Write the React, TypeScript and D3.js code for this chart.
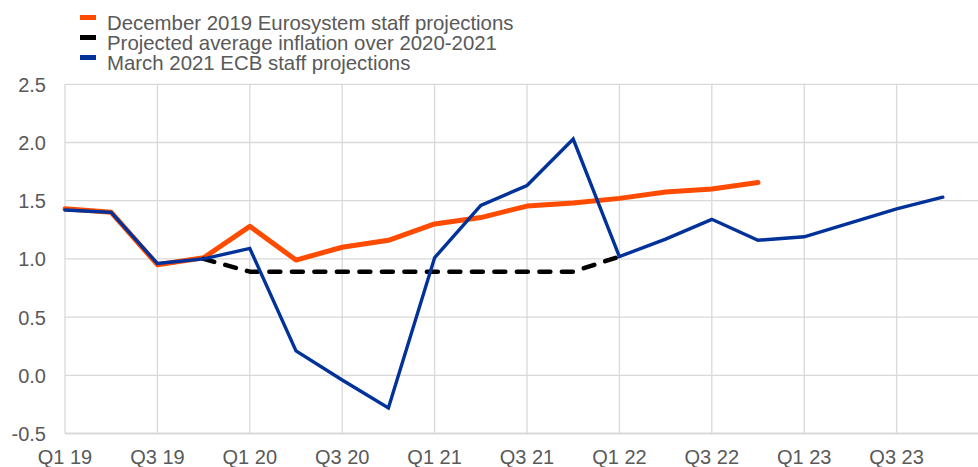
import React from "react";
import * as d3 from "d3";

const quarters = [
  "Q1 19", "Q2 19", "Q3 19", "Q4 19",
  "Q1 20", "Q2 20", "Q3 20", "Q4 20",
  "Q1 21", "Q2 21", "Q3 21", "Q4 21",
  "Q1 22", "Q2 22", "Q3 22", "Q4 22",
  "Q1 23", "Q2 23", "Q3 23", "Q4 23",
];
const tickLabels = ["Q1 19", "Q3 19", "Q1 20", "Q3 20", "Q1 21", "Q3 21", "Q1 22", "Q3 22", "Q1 23", "Q3 23"];
const yTicks = [-0.5, 0.0, 0.5, 1.0, 1.5, 2.0, 2.5];

// December 2019 Eurosystem staff projections (Q1 19 .. Q4 22)
const dec2019 = [1.43, 1.40, 0.95, 1.01, 1.28, 0.99, 1.10, 1.16, 1.30, 1.355, 1.454, 1.48, 1.52, 1.575, 1.60, 1.656];
// Projected average inflation over 2020-2021 (Q4 19 .. Q1 22)
const avgStart = 3;
const avg2020_21 = [1.0, 0.89, 0.89, 0.89, 0.89, 0.89, 0.89, 0.89, 0.89, 1.02];
// March 2021 ECB staff projections (Q1 19 .. Q4 23)
const mar2021 = [1.42, 1.40, 0.96, 1.00, 1.09, 0.21, -0.04, -0.28, 1.01, 1.46, 1.63, 2.03, 1.02, 1.17, 1.34, 1.16, 1.19, 1.31, 1.43, 1.53];

const seriesNames = [
  "December 2019 Eurosystem staff projections",
  "Projected average inflation over 2020-2021",
  "March 2021 ECB staff projections",
];
const colors = ["#FF4B00", "#000000", "#003299"];

const W = 978;
const H = 467;
const FONT = "'Liberation Sans', Arial, Helvetica, sans-serif";

const fmtY = (t: number) => t.toFixed(1);

export default function App() {
  React.useEffect(() => {
    document.body.style.margin = "0";
  }, []);

  const x = d3.scaleLinear().domain([0, quarters.length - 1]).range([65, 65 + 19 * 46.2]);
  const y = d3.scaleLinear().domain([-0.5, 2.5]).range([433.5, 84.3]);

  const line = d3
    .line<[number, number]>()
    .x((d) => x(d[0]))
    .y((d) => y(d[1]));

  const orangePts = dec2019.map((v, i) => [i, v] as [number, number]);
  const avgPts = avg2020_21.map((v, i) => [i + avgStart, v] as [number, number]);
  const bluePts = mar2021.map((v, i) => [i, v] as [number, number]);

  const x0 = x(0);
  const gridColor = "#D9D9D9";
  const textColor = "#595959";

  return (
    <svg
      width={W}
      height={H}
      viewBox={`0 0 ${W} ${H}`}
      style={{ position: "absolute", left: 0, top: 0, display: "block", background: "#fff" }}
      fontFamily={FONT}
    >
      {/* horizontal gridlines */}
      {yTicks.map((t) => (
        <line
          key={"h" + t}
          x1={x0}
          x2={W}
          y1={y(t)}
          y2={y(t)}
          stroke={gridColor}
          strokeWidth={t === -0.5 ? 2 : 1.3}
        />
      ))}
      {/* vertical gridlines */}
      {tickLabels.map((lab) => {
        const i = quarters.indexOf(lab);
        return (
          <line
            key={"v" + lab}
            x1={x(i)}
            x2={x(i)}
            y1={y(2.5)}
            y2={y(-0.5)}
            stroke={gridColor}
            strokeWidth={1.3}
          />
        );
      })}
      {/* y labels */}
      {yTicks.map((t) => (
        <text
          key={"yl" + t}
          x={46}
          y={y(t)}
          dy={7.5}
          textAnchor="end"
          fontSize={20}
          fill={textColor}
        >
          {fmtY(t)}
        </text>
      ))}
      {/* x labels */}
      {tickLabels.map((lab) => {
        const i = quarters.indexOf(lab);
        return (
          <text key={"xl" + lab} x={x(i)} y={464} textAnchor="middle" fontSize={20} fill={textColor}>
            {lab}
          </text>
        );
      })}

      {/* series */}
      <path d={line(orangePts) || ""} fill="none" stroke={colors[0]} strokeWidth={5} strokeLinecap="round" strokeLinejoin="round" />
      <path
        d={line(avgPts) || ""}
        fill="none"
        stroke={colors[1]}
        strokeWidth={4.5}
        strokeLinecap="round"
        strokeLinejoin="round"
        strokeDasharray="11 11.5"
      />
      <path d={line(bluePts) || ""} fill="none" stroke={colors[2]} strokeWidth={3.4} strokeLinecap="round" strokeLinejoin="miter" />

      {/* legend */}
      {seriesNames.map((name, k) => (
        <g key={"lg" + k}>
          <rect x={80} y={15 + k * 20} width={16} height={5} fill={colors[k]} />
          <text x={107} y={29.5 + k * 20} fontSize={20.4} fill={textColor}>
            {name}
          </text>
        </g>
      ))}
    </svg>
  );
}
